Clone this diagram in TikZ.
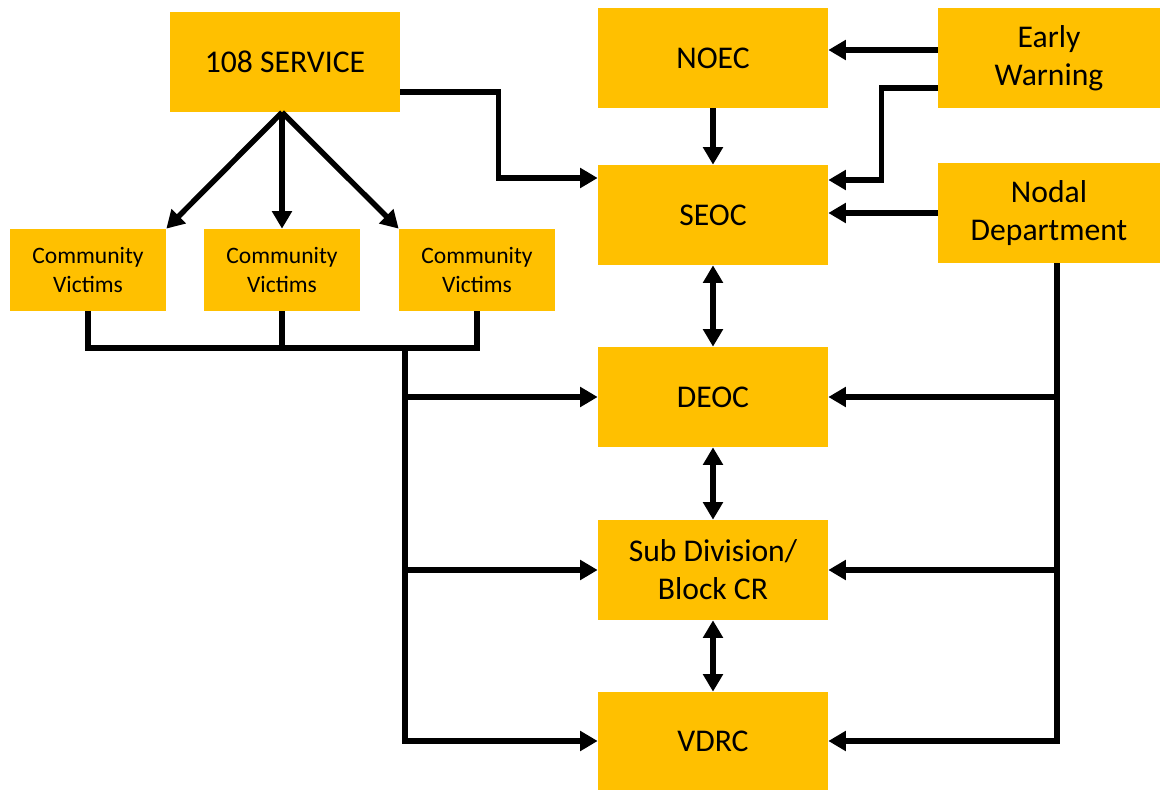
\documentclass[tikz,border=0pt]{standalone}
\usepackage{fontspec}
\setmainfont{Carlito}
\usetikzlibrary{arrows.meta}
\definecolor{boxamber}{RGB}{255,192,0}
\begin{document}
\begin{tikzpicture}[
    >={Triangle[length=10pt,width=11pt]},
    unitbox/.style={
        rectangle,
        fill=boxamber,
        minimum width=4.6cm,
        minimum height=2cm,
        inner sep=2pt,
        align=center,
        font=\fontsize{18}{21.6}\selectfont
    },
    victimbox/.style={
        unitbox,
        minimum width=3.12cm,
        minimum height=1.64cm,
        font=\fontsize{13.4}{16.4}\selectfont
    },
    link/.style={
        draw,
        line width=3.1pt
    }
]
\useasboundingbox (0,0) rectangle (23.28,-15.82);

% ============ TOP ROW ============
\node[unitbox] (svc) at (5.70, -1.24) {108 SERVICE};
\node[unitbox] (noec) at (14.26, -1.16) {NOEC};
\node[unitbox, minimum width=4.44cm] (early) at (20.98, -1.16) {Early\\Warning};

% ============ SECOND ROW ============
\node[unitbox] (seoc) at (14.26, -4.30) {SEOC};
\node[unitbox, minimum width=4.44cm] (nodal) at (20.98, -4.26) {Nodal\\Department};

% Community boxes
\node[victimbox] (cv1) at (1.76, -5.40) {Community\\Victims};
\node[victimbox] (cv2) at (5.64, -5.40) {Community\\Victims};
\node[victimbox] (cv3) at (9.54, -5.40) {Community\\Victims};

% ============ LOWER LEVELS ============
\node[unitbox] (deoc) at (14.26, -7.94) {DEOC};
\node[unitbox] (subdiv) at (14.26, -11.40) {Sub Division/\\Block CR};
\node[unitbox, minimum height=1.96cm] (vdrc) at (14.26, -14.82) {VDRC};

% ============ CONNECTORS ============
% 108 service
\coordinate (svcfoot) at ([xshift=-0.06cm]svc.south);
\draw[link, ->] ([yshift=-0.6cm]svc.east) -- ++(1.96, 0) |- ([yshift=0.74cm]seoc.west);
\draw[link, ->] (svcfoot) -- (cv1.north east);
\draw[link, ->] (svcfoot) -- (svcfoot |- cv2.north);
\draw[link, ->] (svcfoot) -- (cv3.north west);

% Early warning and nodal department into SEOC
\draw[link, ->] (noec) -- (seoc);
\draw[link, ->] ([yshift=0.16cm]early.west) -- ([yshift=0.16cm]noec.east);
\draw[link, ->] ([yshift=-0.6cm]early.west) -- ++(-1.12, 0) |- ([yshift=0.7cm]seoc.east);
\draw[link, ->] (nodal.west) -- (nodal.west -| seoc.east);

% Chain of control rooms
\draw[link, <->] (seoc) -- (deoc);
\draw[link, <->] (deoc) -- (subdiv);
\draw[link, <->] (subdiv) -- (vdrc);

% Community victims bus
\coordinate (bus) at (0, -6.96);
\coordinate (trunk) at (8.10, -6.96);
\draw[link] (cv1.south) |- (bus -| cv3.south) -- (cv3.south);
\draw[link] (cv2.south) -- (cv2.south |- bus);
\draw[link, ->] (trunk) |- (vdrc.west);
\draw[link, ->] (trunk |- deoc.west) -- (deoc.west);
\draw[link, ->] (trunk |- subdiv.west) -- (subdiv.west);

% Nodal department down the right side
\coordinate (nodaldown) at ([xshift=0.16cm]nodal.south);
\draw[link, ->] (nodaldown) |- (vdrc.east);
\draw[link, ->] (nodaldown |- deoc.east) -- (deoc.east);
\draw[link, ->] (nodaldown |- subdiv.east) -- (subdiv.east);

\end{tikzpicture}
\end{document}
